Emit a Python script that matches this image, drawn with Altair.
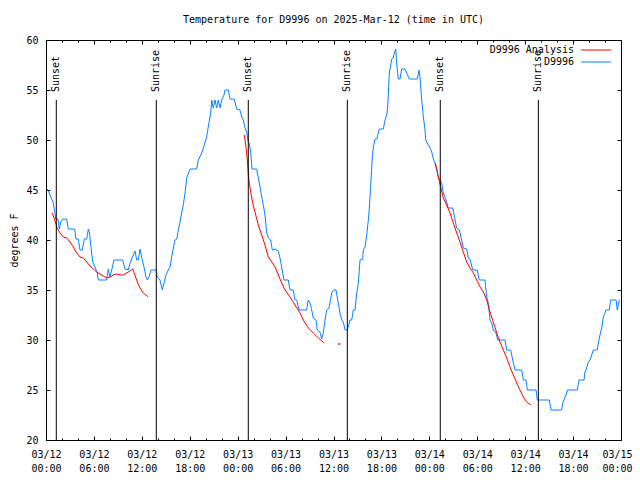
import altair as alt
import pandas as pd

MONO = "DejaVu Sans Mono"

# Observed temperature (hours after 2025-03-12 00:00 UTC, degrees F)
obs_hours = [0.16, 0.41, 0.71, 0.91, 1.09, 1.21, 1.50, 1.67, 1.84, 2.09, 2.59, 2.79, 3.59, 3.76, 4.04,
             4.26, 4.55, 4.80, 5.10, 5.30, 5.45, 5.63, 5.85, 6.14, 6.42, 6.55, 7.60, 7.80, 8.01, 8.23,
             8.51, 9.60, 9.89, 10.31, 10.52, 10.93, 11.14, 11.36, 11.56, 11.77, 11.98, 12.27, 12.52,
             12.68, 12.90, 13.15, 13.77, 13.94, 14.27, 14.56, 14.78, 15.03, 15.31, 15.53, 15.74, 15.94,
             16.15, 16.37, 16.57, 16.78, 16.99, 17.19, 17.41, 17.62, 18.03, 18.87, 19.07, 19.50, 19.70,
             20.12, 20.32, 20.62, 20.75, 20.95, 21.16, 21.37, 21.58, 21.79, 22.00, 22.29, 22.41, 22.83,
             23.04, 23.58, 23.88, 24.29, 24.51, 24.71, 24.92, 25.13, 25.33, 25.46, 25.64, 25.80, 26.38,
             26.59, 26.80, 27.01, 27.21, 27.42, 27.64, 27.84, 28.14, 28.34, 28.68, 29.09, 29.30, 29.51,
             29.80, 30.34, 30.55, 30.97, 31.18, 31.39, 31.68, 32.64, 32.84, 33.06, 33.27, 33.47, 33.81,
             33.97, 34.31, 34.52, 34.72, 34.94, 35.15, 35.44, 35.78, 35.98, 36.31, 36.60, 36.81, 37.03,
             37.23, 37.44, 37.65, 37.85, 38.07, 38.28, 38.48, 38.69, 38.91, 39.11, 39.32, 39.66, 39.73,
             39.95, 40.16, 40.36, 40.48, 40.66, 40.86, 40.99, 41.20, 41.41, 41.61, 41.74, 42.24, 42.45,
             42.66, 42.79, 42.99, 43.29, 43.49, 43.61, 43.79, 43.91, 44.11, 44.33, 44.54, 44.95, 45.17,
             45.49, 46.49, 46.71, 46.83, 47.05, 47.25, 47.46, 47.55, 47.87, 48.08, 48.30, 48.50, 48.71,
             48.92, 49.12, 49.34, 49.55, 49.75, 50.09, 50.38, 50.93, 51.22, 51.43, 51.75, 52.05, 52.25,
             52.68, 52.88, 53.09, 53.43, 54.00, 54.25, 54.97, 55.18, 55.38, 55.60, 55.81, 56.01, 56.35,
             56.56, 57.48, 57.69, 58.19, 58.44, 58.73, 59.57, 59.77, 60.11, 60.27, 61.36, 61.52, 63.02,
             63.24, 64.57, 64.70, 64.86, 65.20, 65.28, 66.53, 66.74, 67.37, 67.49, 67.62, 67.91, 68.12,
             68.33, 68.53, 69.03, 69.16, 69.37, 69.58, 69.79, 70.00, 70.12, 70.54, 70.71, 71.38, 71.54,
             71.71, 71.79]
obs_temps = [45.1, 44.7, 44.1, 43.7, 42.8, 42.1, 42.1, 41.1, 41.8, 42.1, 42.1, 41.1, 41.1, 40.1, 40.1,
             39.0, 39.0, 40.1, 40.1, 41.1, 40.7, 39.3, 37.8, 37.3, 36.7, 36.0, 36.0, 37.1, 36.3, 37.0,
             38.0, 38.0, 37.1, 37.0, 37.7, 38.5, 38.9, 38.0, 38.0, 39.1, 38.3, 37.3, 36.3,
             36.0, 36.3, 37.0, 37.0, 36.3, 36.0, 35.0, 35.7, 36.5, 37.0, 37.3, 38.3, 39.2,
             40.0, 40.1, 41.0, 41.8, 42.7, 43.5, 44.7, 46.2, 47.1, 47.1, 48.0, 48.7, 49.2,
             50.3, 51.3, 52.7, 54.0, 53.2, 54.0, 53.2, 54.0, 53.2, 54.0, 54.5, 55.0, 55.0,
             54.1, 54.1, 53.1, 53.0, 52.3, 52.0, 51.2, 50.8, 49.8, 49.7, 48.7, 47.1, 47.1,
             46.2, 45.3, 44.3, 43.5, 42.5, 40.7, 40.2, 40.0, 39.0, 39.1, 38.9, 38.2, 37.3,
             36.0, 36.0, 35.0, 35.0, 34.0, 34.0, 33.0, 33.0, 34.0, 33.7, 33.0, 32.2, 32.0,
             31.0, 30.8, 30.1, 30.7, 32.0, 33.0, 33.2, 34.7, 35.0, 35.0, 33.7, 32.7, 32.0,
             31.8, 31.0, 31.0, 31.3, 32.0, 32.0, 33.0, 33.0, 34.7, 35.7, 38.0, 38.1, 39.0,
             39.3, 40.5, 42.0, 43.1, 45.5, 48.3, 49.3, 50.1, 50.1, 50.7, 51.1, 51.1, 52.0,
             52.5, 53.3, 56.7, 58.1, 58.2, 58.7, 59.1, 57.7, 56.1, 56.1, 57.1, 57.1, 56.7,
             56.1, 56.1, 57.0, 56.3, 54.0, 52.3, 51.0, 50.0, 49.5, 49.2, 48.8, 48.1, 47.7,
             47.0, 46.3, 46.0, 45.7, 44.7, 44.0, 43.2, 43.2, 42.0, 41.2, 41.0, 40.0, 39.2,
             39.1, 38.2, 38.1, 37.0, 37.0, 36.0, 36.0, 34.3, 33.7, 32.0, 31.7, 31.0, 30.7,
             30.0, 30.0, 29.0, 29.0, 28.0, 27.0, 27.0, 26.0, 26.0, 25.0, 25.0, 24.0, 24.0,
             23.0, 23.0, 23.7, 24.0, 24.7, 25.0, 25.0, 26.0, 26.0, 26.8, 27.0, 27.8, 28.0,
             28.5, 29.0, 29.0, 29.7, 30.5, 31.2, 32.3, 32.7, 33.0, 33.0, 34.0, 34.0, 33.0,
             33.7, 34.0]

# Analysis curves (three nights)
ana1_hours = [0.79, 1.00, 1.21, 1.41, 1.75, 2.17, 2.59, 3.01, 3.42, 3.76, 4.26, 4.67, 5.10, 5.51, 5.92,
              6.35, 6.76, 7.18, 7.60, 8.01, 8.43, 8.85, 9.27, 9.68, 10.11, 10.52, 10.86, 11.14, 11.43,
              11.77, 12.18, 12.52, 12.81]
ana1_temps = [42.7, 42.2, 41.7, 41.2, 40.7, 40.3, 40.2, 39.8, 39.3, 38.8, 38.3, 38.2, 37.8, 37.4, 37.1,
              36.8, 36.6, 36.4, 36.2, 36.3, 36.5, 36.6, 36.5, 36.5, 36.7, 36.9, 37.1, 36.5, 35.8,
              35.2, 34.7, 34.5, 34.3]
ana2_hours = [24.83, 25.04, 25.21, 25.33, 25.46, 25.63, 25.88, 26.17, 26.58, 27.01, 27.42, 27.84, 28.26,
              28.68, 29.09, 29.51, 29.93, 30.55, 31.18, 31.81, 32.22, 32.85, 33.47, 34.10, 34.85]
ana2_temps = [50.5, 49.3, 48.0, 46.7, 45.7, 44.8, 43.7, 42.8, 41.5, 40.5, 39.5, 38.3, 37.8,
              37.3, 36.5, 35.7, 35.0, 34.3, 33.5, 32.7, 32.0, 31.2, 30.7, 30.2, 29.7]
ana3_hours = [48.71, 48.92, 49.12, 49.42, 49.75, 50.17, 50.59, 51.00, 51.43, 51.84, 52.25, 52.68, 53.09,
              53.51, 53.93, 54.35, 54.76, 55.18, 55.60, 56.01, 56.44, 56.85, 57.27, 57.69, 58.10, 58.52,
              58.94, 59.35, 59.77, 60.19, 60.73]
ana3_temps = [47.7, 47.2, 46.3, 45.3, 44.2, 43.5, 42.7, 41.7, 40.7, 39.8, 38.8, 37.8, 37.2,
              36.7, 36.0, 35.3, 34.8, 34.0, 32.8, 31.8, 30.7, 29.8, 29.0, 28.2, 27.3, 26.5,
              25.7, 25.0, 24.3, 23.8, 23.5]
dot_hours = [36.73]
dot_temps = [29.6]

# Sunset / sunrise (hours after 2025-03-12 00:00 UTC)
sun_hours = [1.29, 13.81, 25.33, 37.73, 49.37, 61.65]
sun_labels = ["Sunset", "Sunrise", "Sunset", "Sunrise", "Sunset", "Sunrise"]

x_major = list(range(0, 73, 6))
x_minor = list(range(0, 73, 2))
y_major = [20, 25, 30, 35, 40, 45, 50, 55, 60]

TITLE = "Temperature for D9996 on 2025-Mar-12 (time in UTC)"
SERIES = ["D9996 Analysis", "D9996"]

obs_df = pd.DataFrame({"hour": obs_hours, "temp": obs_temps})
ana_df = pd.concat([
    pd.DataFrame({"hour": ana1_hours, "temp": ana1_temps, "seg": 1}),
    pd.DataFrame({"hour": ana2_hours, "temp": ana2_temps, "seg": 2}),
    pd.DataFrame({"hour": ana3_hours, "temp": ana3_temps, "seg": 3}),
], ignore_index=True)
dot_df = pd.DataFrame({"hour": dot_hours, "temp": dot_temps})
sun_df = pd.DataFrame({"hour": sun_hours, "label": sun_labels})
one = pd.DataFrame({"a": [0]})

W, H = 575, 400
xscale = alt.Scale(domain=[0, 72], nice=False, zero=False)
yscale = alt.Scale(domain=[20, 60], nice=False, zero=False)

DATE_EXPR = "'03/' + (12 + floor(datum.value / 24))"
TIME_EXPR = "((datum.value % 24) < 10 ? '0' : '') + (datum.value % 24) + ':00'"
LAST_SHIFT = {"condition": {"test": "datum.value == 72", "value": -4}, "value": 0}


def tick_axis(orient, size, values):
    return alt.Axis(orient=orient, offset=-(H if orient in ("top", "bottom") else W), labels=False,
                    domain=False, grid=False, ticks=True, tickSize=size, tickColor="black",
                    tickWidth=1, title=None, values=values)


def x_label_axis(expr, pad):
    return alt.Axis(orient="bottom", offset=0, ticks=False, tickSize=0, domain=False, grid=False,
                    values=x_major, title=None, labelFont=MONO, labelFontSize=10,
                    labelColor="black", labelPadding=pad, labelBaseline="top",
                    labelOverlap=False, labelFlush=False, labelExpr=expr,
                    labelOffset=LAST_SHIFT)


y_label_axis = alt.Axis(orient="left", offset=0, ticks=False, tickSize=0, domain=False, grid=False,
                        values=y_major, labelFont=MONO, labelFontSize=10, labelColor="black",
                        labelPadding=8, title="degrees F", titleFont=MONO, titleFontSize=10,
                        titleFontWeight="normal", titleColor="black", titleAngle=270,
                        titleX=-32, titleY=H / 2, titleAlign="center", titleBaseline="middle")

obs_line = alt.Chart(obs_df).mark_line(color="#0a80ff", strokeWidth=1).encode(
    x=alt.X("hour:Q", scale=xscale, axis=x_label_axis(DATE_EXPR, 9)),
    y=alt.Y("temp:Q", scale=yscale, axis=y_label_axis),
)
ana_line = alt.Chart(ana_df).mark_line(color="#ff0000", strokeWidth=1).encode(
    x=alt.X("hour:Q", scale=xscale, axis=x_label_axis(TIME_EXPR, 23)),
    y=alt.Y("temp:Q", scale=yscale, axis=None),
    detail="seg:N",
)
ana_dot = alt.Chart(dot_df).mark_square(color="#ff0000", size=3, opacity=1).encode(
    x=alt.X("hour:Q", scale=xscale, axis=None),
    y=alt.Y("temp:Q", scale=yscale, axis=None),
)
sun_rules = alt.Chart(sun_df).mark_rule(color="black", strokeWidth=1).encode(
    x=alt.X("hour:Q", scale=xscale, axis=None),
    y=alt.value(60), y2=alt.value(H),
)
sun_text = alt.Chart(sun_df).mark_text(angle=270, align="left", baseline="middle", font=MONO,
                                       fontSize=10, color="black", dx=1).encode(
    x=alt.X("hour:Q", scale=xscale, axis=None),
    y=alt.value(53),
    text="label:N",
)


def invisible(xaxis, yaxis):
    return alt.Chart(obs_df).mark_line(opacity=0).encode(
        x=alt.X("hour:Q", scale=xscale, axis=xaxis),
        y=alt.Y("temp:Q", scale=yscale, axis=yaxis),
    )


ticks_a = invisible(tick_axis("top", 4, x_major), tick_axis("right", 4, y_major))
ticks_b = invisible(tick_axis("bottom", 4, x_major), tick_axis("left", 4, y_major))
ticks_c = invisible(tick_axis("top", 2, x_minor), None)
ticks_d = invisible(tick_axis("bottom", 2, x_minor), None)

title_text = alt.Chart(one).mark_text(text=TITLE, align="center", baseline="middle",
                                      font=MONO, fontSize=10, color="black").encode(
    x=alt.value(W / 2), y=alt.value(-20))
leg_text1 = alt.Chart(one).mark_text(text=SERIES[0], align="right", baseline="middle",
                                     font=MONO, fontSize=10, color="black").encode(
    x=alt.value(528), y=alt.value(10))
leg_text2 = alt.Chart(one).mark_text(text=SERIES[1], align="right", baseline="middle",
                                     font=MONO, fontSize=10, color="black").encode(
    x=alt.value(528), y=alt.value(22))
leg_rule1 = alt.Chart(one).mark_rule(color="#ff0000", strokeWidth=1).encode(
    x=alt.value(535), x2=alt.value(565), y=alt.value(10))
leg_rule2 = alt.Chart(one).mark_rule(color="#0a80ff", strokeWidth=1).encode(
    x=alt.value(535), x2=alt.value(565), y=alt.value(22))

chart = alt.layer(
    obs_line, ana_line, ana_dot, sun_rules, sun_text,
    ticks_a, ticks_b, ticks_c, ticks_d,
    title_text, leg_text1, leg_text2, leg_rule1, leg_rule2,
).resolve_axis(x="independent", y="independent").properties(
    width=W, height=H,
    autosize=alt.AutoSizeParams(type="none"),
    padding={"left": 38, "top": 32, "right": 11, "bottom": 32},
    background="white",
).configure_view(stroke="black", strokeWidth=1)

chart.save("out.html", embed_options={"renderer": "svg", "actions": False})
